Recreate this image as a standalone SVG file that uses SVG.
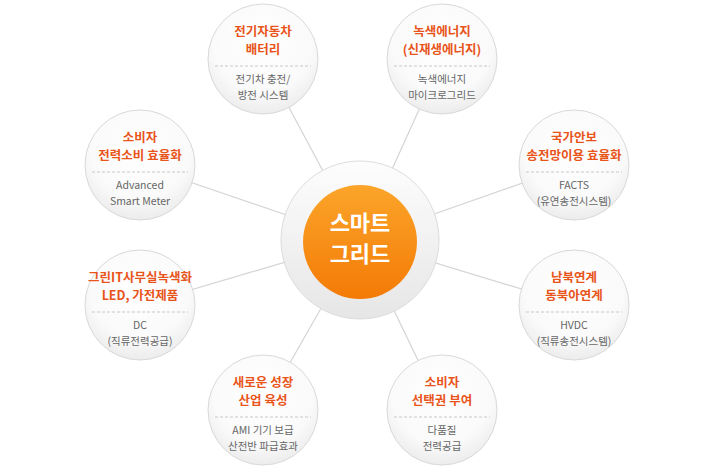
<svg xmlns="http://www.w3.org/2000/svg" width="719" height="472" viewBox="0 0 719 472">
<defs>
<radialGradient id="sat" cx="50%" cy="35%" r="65%"><stop offset="0" stop-color="#ffffff"/><stop offset="0.7" stop-color="#fafafa"/><stop offset="1" stop-color="#ececec"/></radialGradient>
<linearGradient id="ring" x1="0" y1="0" x2="0" y2="1"><stop offset="0" stop-color="#fdfdfd"/><stop offset="1" stop-color="#e6e6e6"/></linearGradient>
<linearGradient id="org" x1="0" y1="0" x2="0" y2="1"><stop offset="0" stop-color="#fba52a"/><stop offset="1" stop-color="#f47a06"/></linearGradient>
</defs>
<style>
.c{fill:url(#sat);stroke:#d9d9d9;stroke-width:1}
.t{font-family:"Noto Sans CJK KR","Liberation Sans",sans-serif;font-size:12.5px;font-weight:bold;fill:#e8541a;text-anchor:middle}
.s{font-family:"Noto Sans CJK KR","Liberation Sans",sans-serif;font-size:10.5px;fill:#666;text-anchor:middle}
.d{stroke:#c8c8c8;stroke-dasharray:3,2;stroke-width:1}
.l{stroke:#d4d4d4;stroke-width:1.2}
.m{font-family:"Noto Sans CJK KR",sans-serif;font-size:22px;font-weight:bold;fill:#fff;text-anchor:middle}
</style>
<g id="connectors">
<line class="l" x1="263" y1="59" x2="360" y2="240"/><line class="l" x1="442" y1="59" x2="360" y2="240"/>
<line class="l" x1="574" y1="165" x2="360" y2="240"/><line class="l" x1="574" y1="305" x2="360" y2="240"/>
<line class="l" x1="442" y1="410" x2="360" y2="240"/><line class="l" x1="263" y1="410" x2="360" y2="240"/>
<line class="l" x1="140" y1="305" x2="360" y2="240"/><line class="l" x1="140" y1="165" x2="360" y2="240"/>
</g>
<g id="center">
<circle cx="360" cy="240" r="79" fill="url(#ring)" stroke="#dcdcdc"/>
<circle cx="360" cy="242" r="57" fill="url(#org)"/>
<text class="m" x="360" y="231">스마트</text>
<text class="m" x="360" y="262">그리드</text>
</g>
<g id="n1"><circle class="c" cx="263" cy="59" r="55"/><text class="t" x="263" y="36">전기자동차</text><text class="t" x="263" y="54">배터리</text><line class="d" x1="215" y1="66" x2="311" y2="66"/><text class="s" x="263" y="83">전기차 충전/</text><text class="s" x="263" y="99">방전 시스템</text></g>
<g id="n2"><circle class="c" cx="442" cy="59" r="55"/><text class="t" x="442" y="36">녹색에너지</text><text class="t" x="442" y="54">(신재생에너지)</text><line class="d" x1="394" y1="66" x2="490" y2="66"/><text class="s" x="442" y="83">녹색에너지</text><text class="s" x="442" y="99">마이크로그리드</text></g>
<g id="n3"><circle class="c" cx="574" cy="165" r="55"/><text class="t" x="574" y="142">국가안보</text><text class="t" x="574" y="160">송전망이용 효율화</text><line class="d" x1="526" y1="172" x2="622" y2="172"/><text class="s" x="574" y="189">FACTS</text><text class="s" x="574" y="205">(유연송전시스템)</text></g>
<g id="n4"><circle class="c" cx="574" cy="305" r="55"/><text class="t" x="574" y="282">남북연계</text><text class="t" x="574" y="300">동북아연계</text><line class="d" x1="526" y1="312" x2="622" y2="312"/><text class="s" x="574" y="329">HVDC</text><text class="s" x="574" y="345">(직류송전시스템)</text></g>
<g id="n5"><circle class="c" cx="442" cy="410" r="55"/><text class="t" x="442" y="387">소비자</text><text class="t" x="442" y="405">선택권 부여</text><line class="d" x1="394" y1="417" x2="490" y2="417"/><text class="s" x="442" y="434">다품질</text><text class="s" x="442" y="450">전력공급</text></g>
<g id="n6"><circle class="c" cx="263" cy="410" r="55"/><text class="t" x="263" y="387">새로운 성장</text><text class="t" x="263" y="405">산업 육성</text><line class="d" x1="215" y1="417" x2="311" y2="417"/><text class="s" x="263" y="434">AMI 기기 보급</text><text class="s" x="263" y="450">산전반 파급효과</text></g>
<g id="n7"><circle class="c" cx="140" cy="305" r="55"/><text class="t" x="140" y="282">그린IT사무실녹색화</text><text class="t" x="140" y="300">LED, 가전제품</text><line class="d" x1="92" y1="312" x2="188" y2="312"/><text class="s" x="140" y="329">DC</text><text class="s" x="140" y="345">(직류전력공급)</text></g>
<g id="n8"><circle class="c" cx="140" cy="165" r="55"/><text class="t" x="140" y="142">소비자</text><text class="t" x="140" y="160">전력소비 효율화</text><line class="d" x1="92" y1="172" x2="188" y2="172"/><text class="s" x="140" y="189">Advanced</text><text class="s" x="140" y="205">Smart Meter</text></g>
</svg>
